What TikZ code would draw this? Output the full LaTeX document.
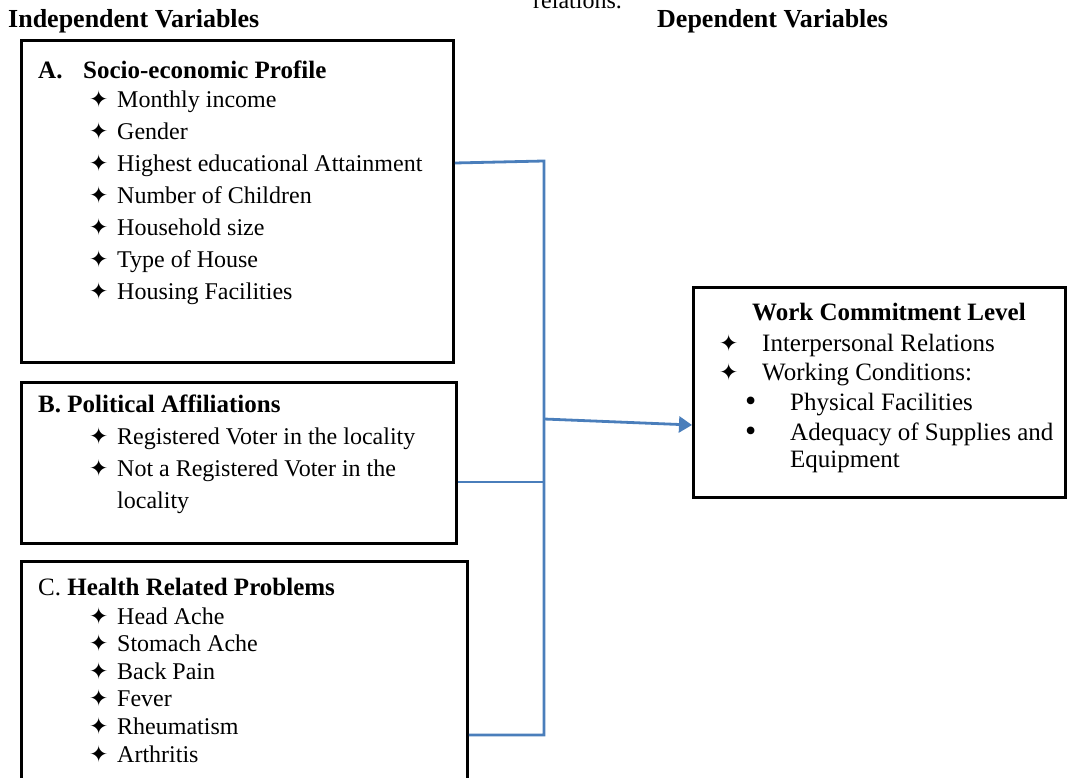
\documentclass[tikz,border=0pt]{standalone}
\usepackage{fontspec}
\setmainfont{Liberation Serif}
\newfontfamily\symfont{DejaVu Sans}
\usetikzlibrary{arrows.meta,positioning}
\tikzset{>={Triangle[length=13pt,width=16pt]}}
\definecolor{linkblue}{HTML}{4A7EBB}

\newcommand{\starmark}[1][26pt]{\makebox[#1][l]{\hspace{-2pt}\symfont\fontsize{23}{23}\selectfont ✦}}
\newcommand{\dotmark}{\makebox[43pt][l]{\hspace{-2pt}\fontsize{32}{30}\selectfont\raisebox{-1pt}{•}}}

\begin{document}
\begin{tikzpicture}[x=1pt,y=-1pt,
    box/.style={draw, line width=2.8pt, anchor=north west, inner sep=0},
    head/.style={anchor=base west, inner sep=0, font=\fontsize{25}{30}\selectfont\bfseries},
    item/.style={anchor=base west, inner sep=0, font=\fontsize{24}{30}\selectfont},
    link/.style={draw=linkblue, line width=2.8pt}]
  \useasboundingbox (0,0) rectangle (1077,778);

  % column titles
  \node[item] (note) at (533,9) {relations.};
  \node[head, font=\fontsize{26}{30}\selectfont\bfseries] (indep) at (8,28) {Independent Variables};
  \node[head, font=\fontsize{26}{30}\selectfont\bfseries] (dep) at (657,28) {Dependent Variables};

  % A. profile
  \node[box, minimum width=432pt, minimum height=322pt] (profile) at (20,39) {};
  \node[head] (profilehead) at (38,79) {\makebox[45pt][l]{A.}Socio-economic Profile};
  \foreach \t [count=\i] in {Monthly income,Gender,Highest educational Attainment,
      Number of Children,Household size,Type of House,Housing Facilities}
    \node[item] (profile\i) at (91,76+32*\i) {\starmark\t};

  % B. politics
  \node[box, minimum width=435pt, minimum height=161pt] (politics) at (20,381) {};
  \node[head] (politicshead) at (38,412) {B. Political Affiliations};
  \node[item] (politics1) at (91,444) {\starmark Registered Voter in the locality};
  \node[item] (politics2) at (91,476) {\starmark Not a Registered Voter in the};
  \node[item] (politics3) at (117,508) {locality};

  % C. health
  \node[box, minimum width=446pt, minimum height=240pt] (health) at (20,560) {};
  \node[head] (healthhead) at (38,595) {{\mdseries C.} Health Related Problems};
  \foreach \t [count=\i] in {Head Ache,Stomach Ache,Back Pain,Fever,Rheumatism,Arthritis}
    \node[item] (health\i) at (91,596.4+27.6*\i) {\starmark\t};

  % dependent box
  \node[box, minimum width=372pt, minimum height=210pt] (commitment) at (692,286) {};
  \node[head] (commithead) at (752,320) {Work Commitment Level};
  \node[item, font=\fontsize{25}{30}\selectfont] (commit1) at (721,352) {\starmark[41pt]Interpersonal Relations};
  \node[item, font=\fontsize{25}{30}\selectfont] (commit2) at (721,380) {\starmark[41pt]Working Conditions:};
  \node[item, font=\fontsize{25}{30}\selectfont] (commit3) at (747,410) {\dotmark Physical Facilities};
  \node[item, font=\fontsize{25}{30}\selectfont] (commit4) at (747,440) {\dotmark Adequacy of Supplies and};
  \node[item, font=\fontsize{25}{30}\selectfont] (commit5) at (790,467) {Equipment};

  % connectors
  \coordinate (topjoin) at (544,161);
  \coordinate (midjoin) at (544,419);
  \coordinate (polljoin) at (544,482);
  \coordinate (botjoin) at (544,735);
  \draw[link] ([yshift=-124pt]profile.north east) -- (topjoin) -- (botjoin)
    -- ([yshift=-175pt]health.north east);
  \draw[link] ([yshift=-101pt]politics.north east) -- (polljoin);
  \draw[link,->] (midjoin) -- ([yshift=-139pt]commitment.north west);
\end{tikzpicture}
\end{document}
